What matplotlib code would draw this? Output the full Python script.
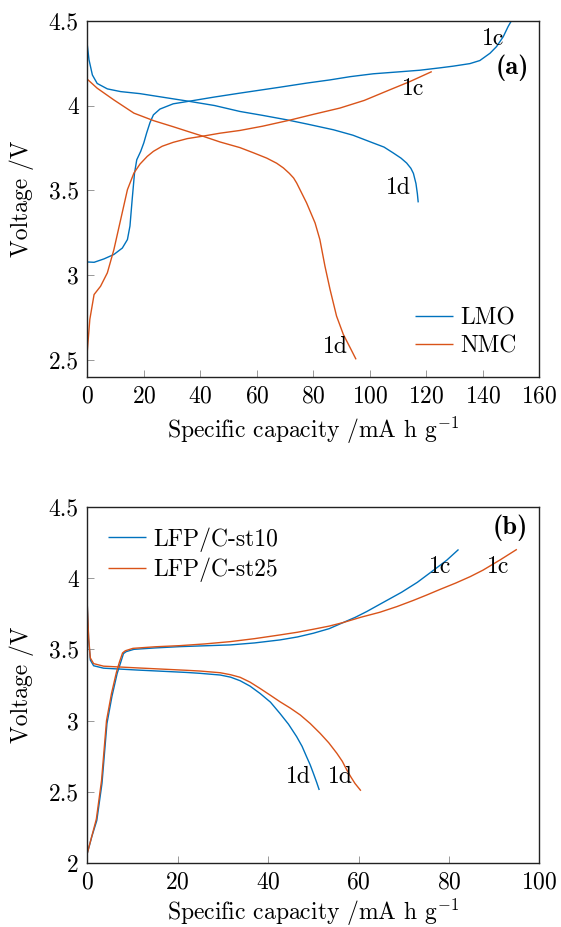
import matplotlib
matplotlib.use("Agg")
import matplotlib.pyplot as plt

plt.rcParams['font.family'] = 'serif'
plt.rcParams['font.serif'] = ['cmr10', 'DejaVu Serif']
plt.rcParams['mathtext.fontset'] = 'cm'
plt.rcParams['axes.formatter.use_mathtext'] = True
plt.rcParams['axes.unicode_minus'] = False

BLUE = '#0072BD'
ORANGE = '#D95319'

# ---- Panel (a) data ----
lmo_c_cap = [0, 2.4, 5.9, 9.4, 12.4, 14.2, 15.1, 15.9, 16.7, 17.5, 18.9, 20.0, 21.0, 22.2, 23.4, 25.7, 30.4, 36.3,
             45, 54.0, 68.2, 77.6, 85.9, 93, 101.2, 110, 117.7, 124.8, 129.5, 135.4, 138.9, 142.5, 144.8, 147.2,
             148.9, 150.1]
lmo_c_v   = [3.078, 3.076, 3.096, 3.122, 3.16, 3.21, 3.29, 3.45, 3.60, 3.68, 3.73, 3.78, 3.838, 3.90, 3.945, 3.979,
             4.01, 4.026, 4.05, 4.073, 4.108, 4.132, 4.151, 4.17, 4.187, 4.198, 4.208, 4.222, 4.232, 4.247, 4.265,
             4.308, 4.347, 4.406, 4.465, 4.5]
lmo_d_cap = [0, 0.6, 1.8, 3.5, 7.1, 11.8, 18.65, 23.6, 36.3, 45, 54.0, 62, 70.5, 78, 87.1, 94, 101.2, 105, 108.3,
             111, 113, 114.5, 115.4, 116.3, 116.8, 117.1]
lmo_d_v   = [4.357, 4.27, 4.18, 4.13, 4.098, 4.082, 4.07, 4.057, 4.024, 4.0, 3.965, 3.942, 3.916, 3.89, 3.857, 3.825,
             3.779, 3.755, 3.72, 3.69, 3.661, 3.63, 3.60, 3.54, 3.48, 3.429]
nmc_c_cap = [0, 0.9, 2.4, 4.7, 7.1, 9.4, 11.8, 14.2, 16.5, 18.65, 21.2, 23.4, 26.5, 30.4, 35.4, 41.1, 47, 54.0, 62,
             71.7, 80, 89.4, 98, 107.1, 114, 121.9]
nmc_c_v   = [2.553, 2.74, 2.886, 2.935, 3.014, 3.15, 3.327, 3.504, 3.602, 3.655, 3.70, 3.73, 3.76, 3.783, 3.805,
             3.82, 3.837, 3.853, 3.878, 3.914, 3.948, 3.985, 4.03, 4.093, 4.14, 4.2]
nmc_d_cap = [0, 3.5, 9.4, 16.5, 23.6, 30.4, 36, 41.1, 47, 54.0, 59, 63.5, 67, 69.4, 71.5, 73.0, 74.1, 77.6, 80.6,
             82.3, 84.1, 85.9, 88.2, 90.6, 93.0, 95.1]
nmc_d_v   = [4.155, 4.102, 4.033, 3.955, 3.91, 3.875, 3.845, 3.818, 3.785, 3.752, 3.72, 3.69, 3.66, 3.632, 3.60,
             3.573, 3.543, 3.426, 3.308, 3.21, 3.053, 2.916, 2.759, 2.651, 2.573, 2.504]

# ---- Panel (b) data ----
st10_c_cap = [0, 1.0, 2.1, 3.25, 4.35, 5.45, 6.6, 7.3, 8.0, 8.6, 10.3, 15, 20.5, 26, 31.6, 37, 42.6, 46.5, 50.0,
              53.5, 56.6, 59.3, 61.8, 65.5, 69.5, 73.0, 76.8, 79.5, 82.1]
st10_c_v   = [2.07, 2.187, 2.30, 2.56, 2.98, 3.17, 3.33, 3.40, 3.47, 3.484, 3.50, 3.51, 3.519, 3.525, 3.531, 3.545,
              3.566, 3.587, 3.613, 3.645, 3.688, 3.725, 3.765, 3.83, 3.90, 3.97, 4.06, 4.125, 4.2]
st25_c_cap = [0, 1.0, 2.0, 3.15, 4.25, 5.35, 6.45, 7.1, 7.8, 8.4, 10.1, 15, 20.5, 26, 31.6, 37, 42.6, 46.5, 50.0,
              53.5, 56.6, 60.5, 64.7, 68.5, 72.1, 75, 78.0, 81.5, 84.7, 87.5, 91.3, 95.0]
st25_c_v   = [2.07, 2.19, 2.31, 2.58, 3.0, 3.19, 3.34, 3.41, 3.475, 3.49, 3.507, 3.518, 3.526, 3.538, 3.554, 3.575,
              3.601, 3.62, 3.641, 3.663, 3.688, 3.725, 3.76, 3.80, 3.843, 3.88, 3.92, 3.965, 4.01, 4.055, 4.127,
              4.201]
st10_d_cap = [0, 0.3, 0.67, 1.4, 3.6, 11.0, 22.0, 24.9, 29.4, 31.7, 33.8, 36, 38.2, 40.5, 42.6, 44.5, 46.3, 47.5,
              48.5, 49.3, 50.0, 50.7, 51.3]
st10_d_v   = [3.81, 3.565, 3.425, 3.385, 3.368, 3.355, 3.338, 3.332, 3.32, 3.305, 3.28, 3.242, 3.191, 3.13, 3.051,
              2.975, 2.888, 2.82, 2.747, 2.69, 2.631, 2.57, 2.514]
st25_d_cap = [0, 0.3, 0.67, 1.4, 3.6, 11.0, 22.0, 24.9, 29.4, 31.7, 33.8, 36, 38.2, 40.4, 42.6, 44.9, 47.1, 49.3,
              51.5, 53.4, 55.2, 56.4, 57.4, 58.3, 59.2, 60.5]
st25_d_v   = [3.81, 3.58, 3.44, 3.40, 3.382, 3.37, 3.353, 3.348, 3.336, 3.322, 3.304, 3.27, 3.226, 3.18, 3.133,
              3.088, 3.04, 2.98, 2.911, 2.845, 2.771, 2.715, 2.654, 2.605, 2.560, 2.509]

FS = 17

fig = plt.figure(figsize=(5.61, 9.27), dpi=100)
ax1 = fig.add_axes([0.1556, 0.5933, 0.806, 0.3844])
ax2 = fig.add_axes([0.1556, 0.0687, 0.806, 0.3847])

lw = 1.0
pkw = dict(lw=lw, solid_joinstyle='round', solid_capstyle='butt')
ax1.plot(lmo_c_cap, lmo_c_v, color=BLUE, label='LMO', **pkw)
ax1.plot(lmo_d_cap, lmo_d_v, color=BLUE, **pkw)
ax1.plot(nmc_c_cap, nmc_c_v, color=ORANGE, label='NMC', **pkw)
ax1.plot(nmc_d_cap, nmc_d_v, color=ORANGE, **pkw)
ax1.set_xlim(0, 160)
ax1.set_ylim(2.4, 4.5)
ax1.set_xticks([0, 20, 40, 60, 80, 100, 120, 140, 160])
ax1.set_yticks([2.5, 3, 3.5, 4, 4.5])
ax1.set_yticklabels(['2.5', '3', '3.5', '4', '4.5'])

ax2.plot(st10_c_cap, st10_c_v, color=BLUE, label='LFP/C-st10', **pkw)
ax2.plot(st10_d_cap, st10_d_v, color=BLUE, **pkw)
ax2.plot(st25_c_cap, st25_c_v, color=ORANGE, label='LFP/C-st25', **pkw)
ax2.plot(st25_d_cap, st25_d_v, color=ORANGE, **pkw)
ax2.set_xlim(0, 100)
ax2.set_ylim(2, 4.5)
ax2.set_xticks([0, 20, 40, 60, 80, 100])
ax2.set_yticks([2, 2.5, 3, 3.5, 4, 4.5])
ax2.set_yticklabels(['2', '2.5', '3', '3.5', '4', '4.5'])

for ax, xl_y in ((ax1, -0.149), (ax2, -0.139)):
    ax.tick_params(direction='in', length=5, width=0.6, color='#888888',
                   labelsize=FS, pad=6, top=False, right=False)
    for s in ax.spines.values():
        s.set_linewidth(1.0)
        s.set_color('#222222')
    ax.set_xlabel(r'Specific capacity /mA h g$^{-1}$', fontsize=FS, va='center')
    ax.set_ylabel('Voltage /V', fontsize=FS, va='center')
    ax.xaxis.set_label_coords(0.5, xl_y)
    ax.yaxis.set_label_coords(-0.144, 0.5)

# annotations panel (a)
ax1.text(143.6, 4.39, '1c', fontsize=FS, ha='center', va='center')
ax1.text(115.3, 4.10, '1c', fontsize=FS, ha='center', va='center')
ax1.text(110.0, 3.516, '1d', fontsize=FS, ha='center', va='center')
ax1.text(87.7, 2.58, '1d', fontsize=FS, ha='center', va='center')
ax1.text(150.3, 4.22, '(a)', fontsize=FS + 2, ha='center', va='center', family='cmb10')

# annotations panel (b)
ax2.text(78.0, 4.077, '1c', fontsize=FS, ha='center', va='center')
ax2.text(90.9, 4.077, '1c', fontsize=FS, ha='center', va='center')
ax2.text(46.8, 2.606, '1d', fontsize=FS, ha='center', va='center')
ax2.text(55.9, 2.606, '1d', fontsize=FS, ha='center', va='center')
ax2.text(93.5, 4.35, '(b)', fontsize=FS + 2, ha='center', va='center', family='cmb10')

leg_kw = dict(frameon=False, fontsize=FS, handlelength=1.6, handletextpad=0.3,
              labelspacing=0.25, borderpad=0, borderaxespad=0, loc='upper left')
ax1.legend(bbox_to_anchor=(0.725, 0.196), **leg_kw)
ax2.legend(bbox_to_anchor=(0.0458, 0.943), **leg_kw)

fig.savefig('out.png', dpi=100)
